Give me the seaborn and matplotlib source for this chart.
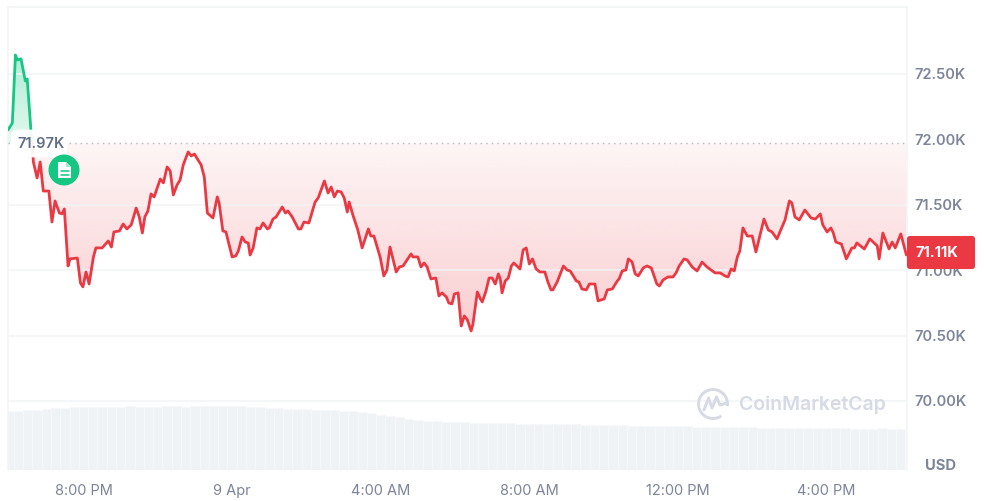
import matplotlib
matplotlib.use('Agg')
import matplotlib.pyplot as plt
from matplotlib.patches import Arc, Circle, FancyBboxPatch, Polygon
import numpy as np
import seaborn as sns

sns.set_theme(style='white')
plt.rcParams['font.family'] = ['Inter', 'DejaVu Sans']

# minutes from midnight of 9 Apr
minutes = np.array([
    -362, -355, -350, -347, -341, -334, -331, -325, -323, -321, -315, -310, -305, -296, -291, -286, -279, -275, -271,
    -265, -262, -250, -245, -241, -236, -231, -224, -220, -210, -200, -195, -191, -182, -176, -170, -163, -155,
    -150, -145, -141, -136, -131, -126, -116, -111, -105, -100, -95, -89, -84, -79, -71, -66, -61, -50, -45,
    -40, -31, -24, -21, -15, -10, 0, 6, 10, 16, 21, 26, 29, 34, 40, 45, 50, 57, 60, 66, 71, 81, 86, 90, 97,
    107, 111, 116, 124, 134, 139, 149, 155, 160, 165, 170, 176, 181, 186, 189, 195, 203, 210, 220, 224, 229,
    239, 245, 250, 255, 265, 270, 276, 289, 292, 300, 305, 310, 315, 321, 329, 334, 339, 346, 350, 355, 359,
    365, 370, 375, 380, 386, 389, 396, 401, 404, 410, 415, 420, 425, 430, 433, 436, 441, 446, 451, 455, 465,
    470, 475, 480, 485, 491, 497, 505, 510, 515, 518, 525, 535, 541, 546, 556, 560, 565, 572, 577, 586, 591,
    601, 606, 614, 622, 625, 630, 636, 640, 646, 651, 656, 664, 670, 677, 686, 690, 696, 704, 712, 717, 722,
    730, 735, 743, 751, 759, 767, 780, 788, 796, 801, 806, 811, 816, 820, 825, 832, 840, 846, 859, 866, 872,
    880, 893, 900, 904, 909, 916, 925, 935, 942, 950, 954, 961, 967, 971, 975, 984, 992, 1001, 1005, 1009,
    1021, 1030, 1042, 1045, 1051, 1061, 1066, 1071, 1080, 1089,
])
prices = np.array([
    72072, 72125, 72645, 72607, 72615, 72446, 72462, 72072, 71972, 71827, 71705, 71827, 71605, 71605, 71368, 71529, 71437, 71430, 71468,
    71032, 71086, 71093, 70902, 70872, 70986, 70894, 71101, 71170, 71170, 71223, 71177, 71292, 71300, 71353, 71315, 71346, 71475,
    71407, 71284, 71407, 71453, 71583, 71560, 71697, 71667, 71789, 71758, 71575, 71651, 71690, 71804, 71904, 71873, 71888, 71804, 71712,
    71437, 71399, 71560, 71514, 71300, 71292, 71101, 71109, 71147, 71254, 71216, 71208, 71116, 71170, 71323, 71315, 71361, 71315, 71323, 71391, 71407, 71483, 71437, 71453, 71407,
    71315, 71315, 71368, 71361, 71521, 71552, 71682, 71590, 71636, 71560, 71605, 71598, 71552, 71445, 71521, 71422, 71307, 71170, 71315, 71261, 71261,
    71101, 70956, 71001, 71177, 70986, 71024, 71032, 71124, 71101, 71101, 71024, 71055, 71024, 70933, 70940, 70803, 70826, 70795, 70749, 70742, 70818,
    70826, 70573, 70650, 70619, 70535, 70589, 70833, 70780, 70757, 70841, 70940, 70940, 70894, 70971, 70933, 70826, 70917, 70940, 71032, 71055, 71009,
    71154, 71170, 71047, 71086, 71009, 70986, 70986, 70910, 70849, 70849, 70910, 71032, 71001, 70994, 70917, 70910, 70856, 70849, 70894, 70894, 70765,
    70780, 70849, 70856, 70917, 70933, 70994, 71001, 71086, 71062, 70971, 70956, 71017, 71032, 71017, 70894, 70879, 70925, 70948, 70948, 70979, 71032,
    71086, 71078, 71024, 70994, 71062, 71024, 70979, 70979, 70956, 70948, 71009, 70994, 71101, 71147, 71323, 71261, 71261, 71139, 71391, 71307, 71292,
    71239, 71384, 71529, 71514, 71407, 71384, 71460, 71399, 71391, 71430, 71346, 71292, 71323, 71284, 71215, 71200, 71086, 71170, 71170, 71208,
    71162, 71239, 71185, 71086, 71284, 71162, 71215, 71170, 71277, 71116,
])
base_price = 71972
last_price = 71116

# volume in billions, one bar each 15 minutes
volume_start = -360
volume_step = 15
volume = [
    59, 59.5, 60, 60.5, 61.5, 62, 62.5, 63, 63, 63.5, 63.5, 63.5, 63.5, 64, 63.5, 63.5, 63.5, 64, 64, 63.5, 64, 64, 64, 64, 64,
    64, 63.5, 63, 62.5, 62, 61.5, 61, 61, 60.5, 60, 60, 59.5, 59, 58, 57, 55.5, 54, 53, 51.5, 50, 49.5, 49, 48.5, 48, 48, 47.5, 47.5,
    47, 47, 47, 46.5, 46.5, 46.5, 46, 46, 46, 46, 45.5, 45.5, 45, 45, 45, 44.5, 44.5, 44.5, 44, 44, 44, 44, 43.5, 43.5, 43.5,
    43, 43, 43, 43, 42.5, 42.5, 42.5, 42.5, 42, 42, 42, 42, 42, 42, 41.5, 41.5, 41.5, 42, 41.5, 41.5,
]

price_ticks = [70000, 70500, 71000, 71500, 72000, 72500]
grid_prices = [70000, 70500, 71000, 71500, 72500]
price_tick_labels = ['70.00K', '70.50K', '71.00K', '71.50K', '72.00K', '72.50K']
time_ticks = [-240, 0, 240, 480, 720, 960]
time_tick_labels = ['8:00 PM', '9 Apr', '4:00 AM', '8:00 AM', '12:00 PM', '4:00 PM']

RED = '#ea3943'
GREEN = '#16c784'
GRID = '#f2f4f6'
TEXT = '#7d8599'


def gradient_fill(ax, x, y, base, color, alpha_base, alpha_far):
    """Fill between line and baseline, stronger with distance from the baseline"""
    poly = ax.fill_between(x, y, base, facecolor='none', edgecolor='none')
    far = y[np.argmax(np.abs(y - base))]
    rgba = np.zeros((256, 1, 4))
    rgba[..., :3] = matplotlib.colors.to_rgb(color)
    rgba[..., 3] = np.linspace(alpha_base, alpha_far, 256)[:, None]
    low, high = sorted([base, far])
    if far > base:
        rgba = rgba[::-1]
    im = ax.imshow(rgba, extent=[x[0], x[-1], low, high], aspect='auto', origin='upper', zorder=1)
    im.set_clip_path(poly.get_paths()[0], ax.transData)
    poly.remove()


fig = plt.figure(figsize=(9.84, 5.01), dpi=100, facecolor='white')
rect = [8 / 984, 31 / 501, 899 / 984, 463 / 501]

vol_ax = fig.add_axes(rect)
vol_x = volume_start + volume_step * np.arange(len(volume))
vol_ax.bar(vol_x, volume, width=volume_step, color='#f0f3f6', edgecolor='#f7f8fa', linewidth=0.6)
vol_ax.set_xlim(-362, 1090)
vol_ax.set_ylim(0, 463)
vol_ax.axis('off')

ax = fig.add_axes(rect)
ax.patch.set_visible(False)

up = prices >= base_price
down = prices <= base_price
down[:8] = False

gradient_fill(ax, minutes[up], prices[up], base_price, GREEN, 0.12, 0.34)
gradient_fill(ax, minutes[down], prices[down], base_price, RED, 0.05, 0.25)

ax.hlines(grid_prices, -362, 1090, color=GRID, lw=1.1, zorder=2)
sns.lineplot(x=minutes[up], y=prices[up], color=GREEN, lw=2.0, estimator=None, ax=ax, zorder=4)
sns.lineplot(x=minutes[down], y=prices[down], color=RED, lw=2.0, estimator=None, ax=ax, zorder=4)
ax.axhline(base_price, color='#b4b8c2', lw=1.0, ls=(0, (1, 3)), zorder=3)

ax.set_xlim(-362, 1090)
ax.set_ylim(69472, 73012)
ax.yaxis.tick_right()
ax.set_yticks(price_ticks)
ax.set_yticklabels(price_tick_labels, color=TEXT, fontsize=10.5, fontweight='semibold')
ax.set_xticks(time_ticks)
ax.set_xticklabels(time_tick_labels, color=TEXT, fontsize=10.5)
ax.tick_params(axis='y', length=0, pad=5.5)
ax.tick_params(axis='x', length=0, pad=10)
ax.grid(False)
for side in ['bottom']:
    ax.spines[side].set_visible(False)
for side in ['top', 'left', 'right']:
    ax.spines[side].set_color(GRID)
    ax.spines[side].set_linewidth(1.1)

# overlay in picture pixels for tags, badge and watermark
over = fig.add_axes([0, 0, 1, 1], zorder=5)
over.set_xlim(0, 984)
over.set_ylim(501, 0)
over.axis('off')

# watermark
logo = '#d6dae5'
over.add_patch(Arc((713, 404), 29, 29, theta1=55, theta2=368, color=logo, lw=2.1))
over.plot([704, 708.5, 712, 716.5, 720, 727], [410, 398, 408, 397, 405, 403], color=logo, lw=2.1)
over.text(739, 405, 'CoinMarketCap', color=logo, fontsize=14.0, fontweight='semibold', va='center', ha='left')

# last price tag
over.add_patch(FancyBboxPatch((908, 237), 66, 31, boxstyle='round,pad=0,rounding_size=2', fc=RED, ec=RED, lw=1.5))
over.text(915, 253, '71.11K', color='white', fontsize=10.6, fontweight='bold', va='center', ha='left')

# base price tag
over.add_patch(FancyBboxPatch((12, 131), 54, 25, boxstyle='round,pad=0,rounding_size=6', fc='white', ec='white', alpha=0.93, lw=2))
over.text(17, 144, '71.97K', color='#616e85', fontsize=10.5, fontweight='semibold', va='center', ha='left')

# news badge
over.add_patch(Circle((64, 170), 15.5, fc=GREEN, ec='none'))
over.add_patch(Polygon([(58, 162), (66, 162), (71, 167), (71, 178), (58, 178)], fc='white', ec='none'))
over.add_patch(Polygon([(66, 162), (66, 167), (71, 167)], fc='#a6e9cf', ec='none'))
over.plot([60.5, 68.5], [171, 171], color=GREEN, lw=1.1)
over.plot([60.5, 68.5], [174.5, 174.5], color=GREEN, lw=1.1)

over.text(941, 466, 'USD', color=TEXT, fontsize=10.6, fontweight='bold', va='center', ha='center')

fig.savefig('out.png', dpi=100)
